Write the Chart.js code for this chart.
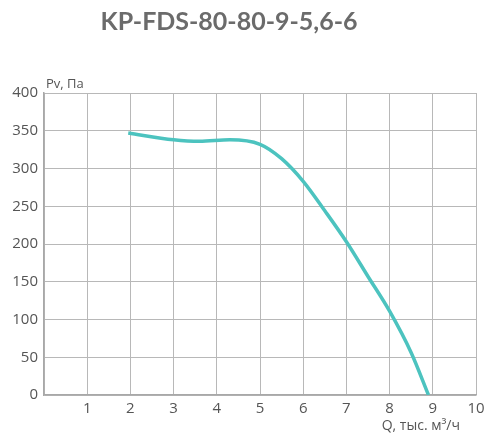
<!DOCTYPE html>
<html lang="ru">
<head>
    <meta charset="UTF-8">
    <title>KP-FDS-80-80-9-5,6-6</title>
    <script src="https://cdn.jsdelivr.net/npm/chart.js"></script>
    <style>
        body {
            margin: 0;
            background: #ffffff;
        }
        .chart-container {
            position: relative;
            width: 499px;
            height: 445px;
        }
    </style>
</head>
<body>
    <div class="chart-container">
        <canvas id="fanChart"></canvas>
    </div>

    <script>
        // Данные кривой: расход Q (тыс. м3/ч) и давление Pv (Па)
        const chartTitle = 'KP-FDS-80-80-9-5,6-6';
        const flowQ = [1.95, 3, 3.6, 4.3, 5, 5.5, 6, 6.5, 7, 7.5, 8, 8.5, 8.9];
        const pressurePv = [347, 338, 336, 338, 332, 313, 283, 244, 203, 157, 111, 56, 0];
        const yLabel = 'Pv, Па';
        const xLabel = 'Q, тыс. м³/ч';

        const points = flowQ.map((q, i) => ({ x: q, y: pressurePv[i] }));

        // Подписи: заголовок и названия осей
        const labelsPlugin = {
            id: 'labels',
            afterDraw(chart) {
                const ctx = chart.ctx;
                const area = chart.chartArea;
                ctx.save();
                ctx.fillStyle = '#6b6b6b';
                ctx.font = 'bold 25px Lato';
                ctx.textAlign = 'center';
                ctx.textBaseline = 'alphabetic';
                ctx.fillText(chartTitle, 229, 30);

                ctx.fillStyle = '#555555';
                ctx.font = '13px "Open Sans"';
                ctx.textAlign = 'left';
                ctx.fillText(yLabel, area.left + 2, area.top - 5);

                ctx.font = '14px "Open Sans"';
                ctx.textAlign = 'right';
                ctx.fillText(xLabel, 460, 430);
                ctx.restore();
            }
        };

        const ctx = document.getElementById('fanChart').getContext('2d');
        const chart = new Chart(ctx, {
            type: 'scatter',
            data: {
                datasets: [{
                    data: points,
                    showLine: true,
                    borderColor: '#4cc3bf',
                    borderWidth: 3.5,
                    pointRadius: 0,
                    cubicInterpolationMode: 'monotone',
                    fill: false
                }]
            },
            options: {
                responsive: true,
                maintainAspectRatio: false,
                animation: false,
                layout: {
                    padding: { top: 93, right: 23, bottom: 0, left: 0 }
                },
                plugins: {
                    legend: { display: false },
                    tooltip: { enabled: false }
                },
                scales: {
                    x: {
                        type: 'linear',
                        min: 0,
                        max: 10,
                        ticks: {
                            stepSize: 1,
                            color: '#555555',
                            font: { family: 'Open Sans', size: 15 },
                            padding: 5,
                            maxRotation: 0,
                            callback: (v) => v === 0 ? '' : v
                        },
                        grid: { color: '#b8b8b8', lineWidth: 1, drawTicks: false },
                        border: { color: '#a8a8a8', width: 1.5 },
                        afterFit(scale) { scale.height = 50; }
                    },
                    y: {
                        min: 0,
                        max: 400,
                        ticks: {
                            stepSize: 50,
                            color: '#555555',
                            font: { family: 'Open Sans', size: 15 },
                            padding: 6
                        },
                        grid: { color: '#b8b8b8', lineWidth: 1, drawTicks: false },
                        border: { color: '#a8a8a8', width: 1.5 },
                        afterFit(scale) { scale.width = 44; }
                    }
                }
            },
            plugins: [labelsPlugin]
        });
    </script>
</body>
</html>
